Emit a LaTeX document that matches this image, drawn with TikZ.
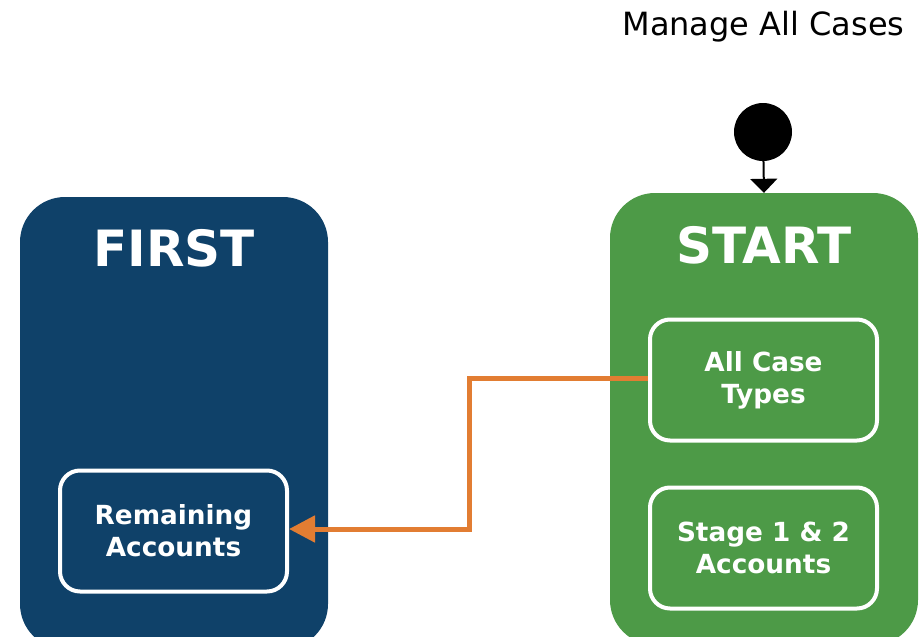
\documentclass[tikz,border=0pt]{standalone}
\usepackage{fontspec}
\setmainfont{DejaVu Sans}
\usetikzlibrary{arrows.meta}

\definecolor{firstblue}{RGB}{15,65,105}
\definecolor{startgreen}{RGB}{77,154,71}
\definecolor{floworange}{RGB}{226,125,50}

\begin{document}
\begin{tikzpicture}[x=1pt,y=-1pt,
  stage/.style={rounded corners=45pt,minimum width=308pt,minimum height=452pt,inner sep=0pt},
  head/.style={text=white,font=\fontsize{50}{60}\selectfont\bfseries,anchor=base},
  step box/.style={draw=white,line width=4pt,rounded corners=20pt,minimum width=227pt,minimum height=121pt,
    text=white,align=center,font=\fontsize{26.3}{32}\selectfont\bfseries},
  flow/.style={draw=floworange,line width=5pt,-{Triangle[length=26pt,width=26pt]}}]
  \useasboundingbox (0,0) rectangle (924,637);
  \node (title) at (763.5,35) [anchor=base,font=\fontsize{32}{36}\selectfont] {Manage All Cases};
  % the two stages
  \node (first) at (174,423) [stage,fill=firstblue] {};
  \node (start) at (764,419) [stage,fill=startgreen] {};
  \node (firsthead) at (174,266) [head] {FIRST};
  \node (starthead) at (764,263) [head] {START};
  % boxes inside
  \node (types) at (763.5,380) [step box] {All Case\\Types};
  \node (stage12) at (763.5,548) [step box] {Stage 1 \& 2\\Accounts};
  \node (remain) at (173.5,531) [step box] {Remaining\\Accounts};
  % initial state
  \node (init) at (763,132) [circle,fill=black,minimum size=58pt,inner sep=0pt] {};
  \draw[line width=2pt,-{Triangle[length=14pt,width=27pt]}] (init) -- (start.north);
  \coordinate (bend) at (469,378);
  \draw[flow] (types.west |- bend) -- (bend) |- (remain.east |- 0,529);
\end{tikzpicture}
\end{document}
